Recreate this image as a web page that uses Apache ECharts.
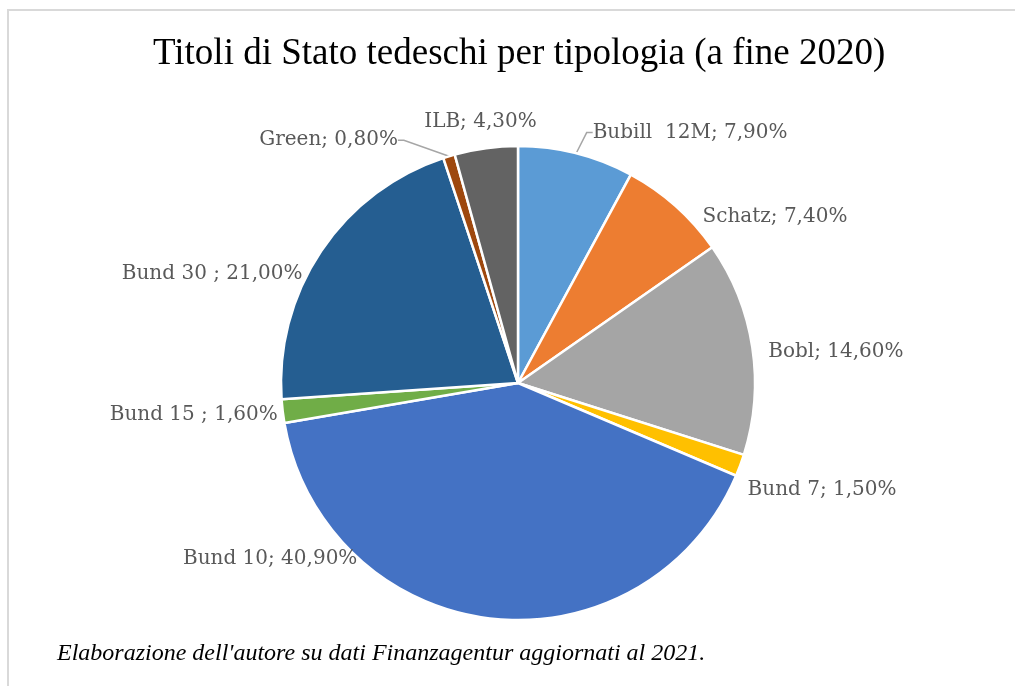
<!DOCTYPE html>
<html>
<head>
<meta charset="utf-8">
<script src="https://cdn.jsdelivr.net/npm/echarts@6/dist/echarts.min.js"></script>
<style>
html,body{margin:0;padding:0;background:#fff;}
#chart{width:1015px;height:686px;}
</style>
</head>
<body>
<div id="chart"></div>
<script>
const titleText = 'Titoli di Stato tedeschi per tipologia (a fine 2020)';
const footnote = "Elaborazione dell'autore su dati Finanzagentur aggiornati al 2021.";
const categories = ['Bubill  12M', 'Schatz', 'Bobl', 'Bund 7', 'Bund 10', 'Bund 15 ', 'Bund 30 ', 'Green', 'ILB'];
const shares = [7.9, 7.4, 14.6, 1.5, 40.9, 1.6, 21.0, 0.8, 4.3];
const colors = ['#5B9BD5', '#ED7D31', '#A5A5A5', '#FFC000', '#4472C4', '#70AD47', '#255E91', '#9E480E', '#636363'];
const withLeader = ['Bubill  12M', 'Green'];
// label placement tweaks (layout only), [dx, dy] per slice
const labelNudge = [[3, -11], [9, 18], [-5, 6], [-13, 21], [-121, -70], [11, 2], [-4, 28], [-6, -20], [63, -16]];

const chart = echarts.init(document.getElementById('chart'), null, {renderer: 'canvas'});
const data = categories.map((c, i) => ({
  name: c,
  value: shares[i],
  itemStyle: {color: colors[i]},
  labelLine: {show: withLeader.indexOf(c) >= 0}
}));

chart.setOption({
  backgroundColor: '#fff',
  animation: false,
  title: {
    text: titleText,
    left: 148,
    top: 31,
    textStyle: {fontFamily: 'Liberation Serif', fontSize: 37, fontWeight: 'normal', color: '#000'}
  },
  graphic: [
    {type: 'rect', shape: {x: 7, y: 9, width: 1010, height: 2}, style: {fill: '#d9d9d9'}},
    {type: 'rect', shape: {x: 7, y: 9, width: 2, height: 680}, style: {fill: '#d9d9d9'}},
    {type: 'text', left: 57, top: 642, style: {text: footnote, fontFamily: 'Liberation Serif', fontStyle: 'italic', fontSize: 24, fill: '#000'}}
  ],
  series: [{
    type: 'pie',
    center: [518, 383],
    radius: 237,
    startAngle: 90,
    clockwise: true,
    data: data,
    itemStyle: {borderColor: '#fff', borderWidth: 2.5},
    label: {
      show: true,
      position: 'outside',
      fontFamily: 'DejaVu Serif',
      fontSize: 20,
      color: '#595959',
      formatter: p => p.name + '; ' + p.value.toFixed(2).replace('.', ',') + '%'
    },
    labelLine: {length: 10, length2: 6, lineStyle: {color: '#a6a6a6', width: 1.5}},
    labelLayout: p => ({
      x: p.labelRect.x + labelNudge[p.dataIndex][0],
      y: p.labelRect.y + labelNudge[p.dataIndex][1],
      align: 'left',
      verticalAlign: 'top'
    })
  }]
});
</script>
</body>
</html>
